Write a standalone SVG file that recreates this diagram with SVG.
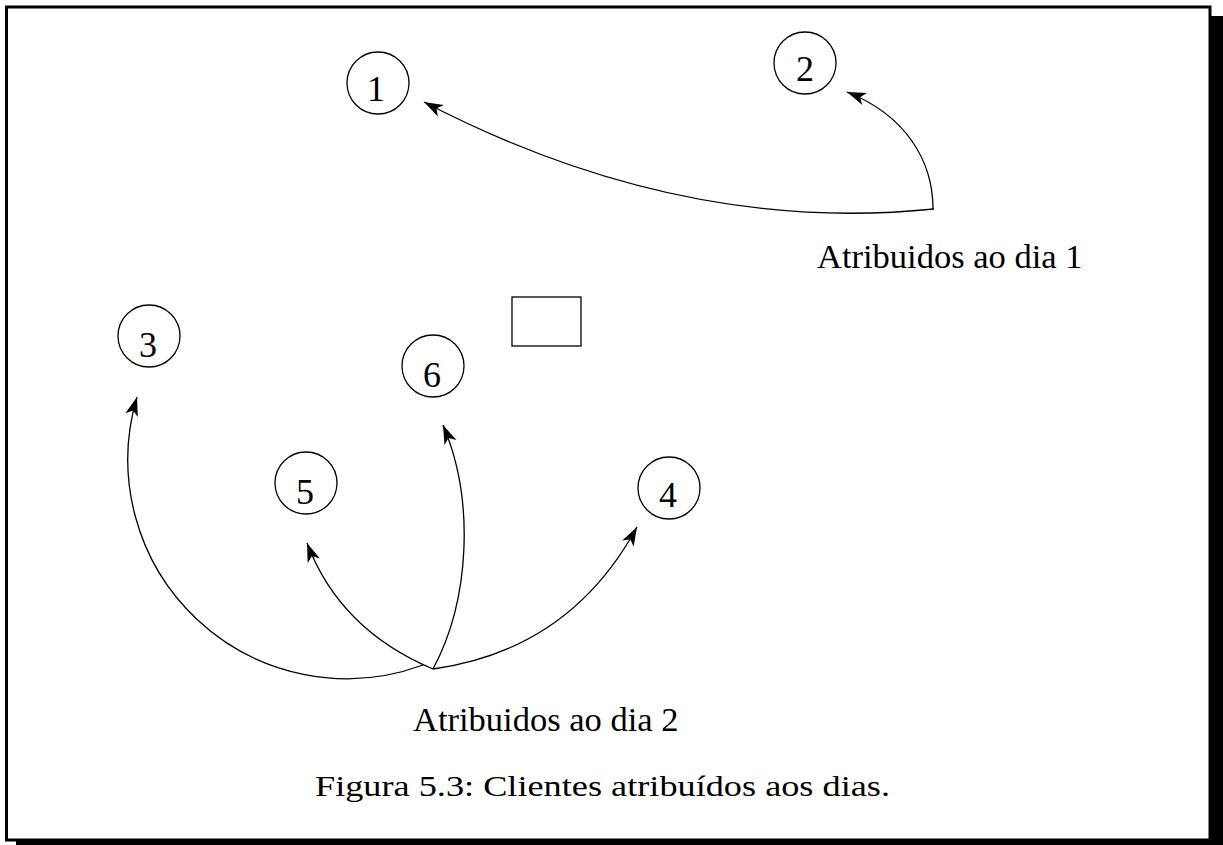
<svg xmlns="http://www.w3.org/2000/svg" width="1223" height="845" viewBox="0 0 1223 845">
<style>
.node circle{fill:none;stroke:#000;stroke-width:1.3}
.node text{font-family:"Liberation Serif","Times New Roman",serif;font-size:36px;fill:#000;text-anchor:middle}
.lbl{font-family:"Liberation Serif","Times New Roman",serif;font-size:34.5px;fill:#000}
.edge{fill:none;stroke:#000;stroke-width:1.3;marker-end:url(#ah)}
.cap{font-family:"Liberation Serif","Times New Roman",serif;font-size:29px;fill:#000}
</style>
<defs>
<marker id="ah" markerUnits="userSpaceOnUse" markerWidth="24" markerHeight="16" viewBox="-19 -8 21 16" refX="0" refY="0" orient="auto">
<path d="M0,0 L-19,-6.5 L-14,0 L-19,6.5 Z" fill="#000"/>
</marker>
</defs>
<rect x="0" y="0" width="1223" height="845" fill="#fff"/>
<g id="frame">
<rect x="6.5" y="7" width="1203.5" height="833" fill="none" stroke="#000" stroke-width="3"/>
<rect x="1211" y="16" width="12" height="829" fill="#000"/>
<rect x="16" y="839" width="1207" height="6" fill="#000"/>
</g>
<g id="n1" class="node"><circle cx="378" cy="83" r="31"/><text x="376" y="101">1</text></g>
<g id="n2" class="node"><circle cx="805" cy="63" r="31"/><text x="805" y="81">2</text></g>
<g id="n3" class="node"><circle cx="149" cy="336" r="31"/><text x="148" y="357">3</text></g>
<g id="n6" class="node"><circle cx="433" cy="366" r="31"/><text x="432" y="387">6</text></g>
<g id="n5" class="node"><circle cx="306" cy="483" r="31"/><text x="305" y="504">5</text></g>
<g id="n4" class="node"><circle cx="669" cy="488" r="31"/><text x="668" y="507">4</text></g>
<g id="box"><rect x="512" y="297" width="69" height="49" fill="none" stroke="#000" stroke-width="1.3"/></g>
<g id="connectors">
<path class="edge" d="M934,209 Q680,235 424,102"/>
<path class="edge" d="M933,209 C933,160 905,115 847,92"/>
<path class="edge" d="M423,665 A219,219 0 0 1 137,397"/>
<path class="edge" d="M433,669 Q340,630 307,543"/>
<path class="edge" d="M433,669 C470,600 475,500 443,425"/>
<path class="edge" d="M433,669 Q570,650 637,527"/>
</g>
<text class="lbl" x="817" y="268">Atribuidos ao dia 1</text>
<text class="lbl" x="413" y="731">Atribuidos ao dia 2</text>
<text class="cap" x="315" y="796" textLength="575" lengthAdjust="spacingAndGlyphs">Figura 5.3: Clientes atribuídos aos dias.</text>
</svg>
